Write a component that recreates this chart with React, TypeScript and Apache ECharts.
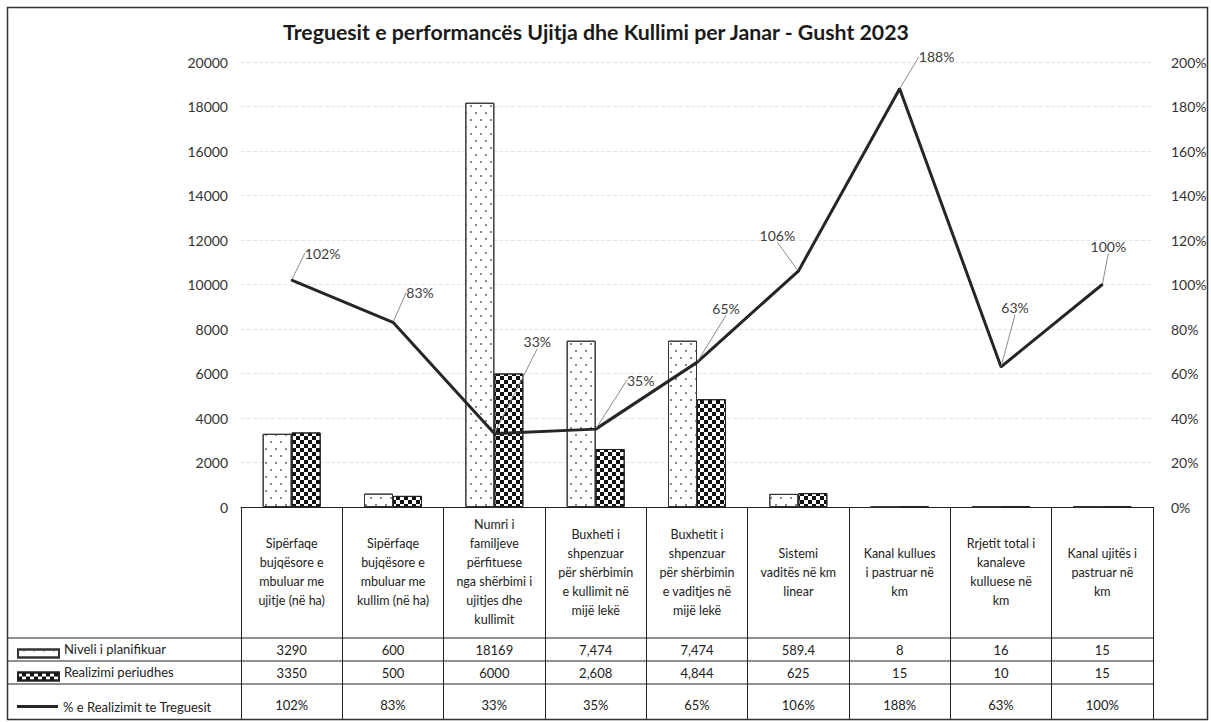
import React, { useEffect, useRef } from 'react';
import * as echarts from 'echarts';

const chartTitle = 'Treguesit e performancës Ujitja dhe Kullimi per Janar - Gusht 2023';

const categories = [
  'Sipërfaqe\nbujqësore e\nmbuluar me\nujitje (në ha)',
  'Sipërfaqe\nbujqësore e\nmbuluar me\nkullim (në ha)',
  'Numri i\nfamiljeve\npërfituese\nnga shërbimi i\nujitjes dhe\nkullimit',
  'Buxheti i\nshpenzuar\npër shërbimin\ne kullimit në\nmijë lekë',
  'Buxhetit i\nshpenzuar\npër shërbimin\ne vaditjes në\nmijë lekë',
  'Sistemi\nvaditës në km\nlinear',
  'Kanal kullues\ni pastruar në\nkm',
  'Rrjetit total i\nkanaleve\nkulluese në\nkm',
  'Kanal ujitës i\npastruar në\nkm',
];

const seriesNames = ['Niveli i planifikuar', 'Realizimi periudhes', '% e Realizimit te Treguesit'];

const planned = [3290, 600, 18169, 7474, 7474, 589.4, 8, 16, 15];
const realized = [3350, 500, 6000, 2608, 4844, 625, 15, 10, 15];
const pctRealized = [102, 83, 33, 35, 65, 106, 188, 63, 100];
const useThousandsSep = [false, false, false, true, true, false, false, false, false];

// label offsets (layout only)
const labelOffsets: number[][] = [
  [31, -19], [27, -22], [43, -84], [45, -41], [29, -46], [-21, -28], [37, -24], [14, -51], [6, -30],
];

const FONT = 'Lato';

const fmtVal = (v: number, i: number) =>
  useThousandsSep[i] ? v.toLocaleString('en-US') : String(v);

const dotDecal = {
  symbol: 'rect',
  symbolSize: 1,
  color: '#8a8a8a',
  backgroundColor: null,
  dashArrayX: [[2, 8], [0, 5, 2, 3]],
  dashArrayY: [2, 5],
  rotation: 0,
};

const checkDecal = {
  symbol: 'rect',
  symbolSize: 1,
  color: '#111',
  backgroundColor: null,
  dashArrayX: [[4, 4], [0, 4, 4, 0]],
  dashArrayY: [4, 0],
  rotation: 0,
};

export default function App() {
  const ref = useRef<HTMLDivElement>(null);
  useEffect(() => {
    if (!ref.current) return;
    const chart = echarts.init(ref.current, undefined, { renderer: 'svg' });
    const tableRowText = { fontFamily: FONT, fontSize: 13, color: '#222' };
    const valueRows = [planned, realized, pctRealized];
    const rowOffsets = [143, 166, 198];
    const extraAxes = valueRows.map((row, r) => ({
      type: 'category',
      data: categories,
      position: 'bottom',
      offset: rowOffsets[r],
      axisLine: { show: false },
      axisTick: { show: false },
      splitLine: { show: false },
      axisLabel: {
        interval: 0,
        margin: 0,
        verticalAlign: 'middle',
        ...tableRowText,
        formatter: (_v: string, idx: number) =>
          r === 2 ? `${row[idx]}%` : fmtVal(row[idx], idx),
      },
    }));
    const legendBase = {
      orient: 'vertical',
      left: 12,
      itemWidth: 41,
      itemHeight: 8,
      selectedMode: false,
      textStyle: { fontFamily: FONT, fontSize: 13, color: '#222' },
    };
    const shiftedText = {
      fontFamily: FONT,
      fontSize: 13,
      color: '#222',
      rich: { t: { fontFamily: FONT, fontSize: 13, color: '#222', padding: [0, 0, 10, 0] } },
    };
    chart.setOption({
      animation: false,
      backgroundColor: '#fff',
      title: {
        text: chartTitle,
        left: 278,
        top: 16,
        textStyle: { fontFamily: FONT, fontSize: 21.3, fontWeight: 'bold', color: '#1a1a1a' },
      },
      legend: [
        { ...legendBase, top: 637, data: [{ name: seriesNames[0], icon: 'rect' }], formatter: '{t|{name}}', textStyle: shiftedText },
        { ...legendBase, top: 660, data: [{ name: seriesNames[1], icon: 'rect' }], formatter: '{t|{name}}', textStyle: shiftedText },
        { ...legendBase, top: 695, itemHeight: 3, data: [{ name: seriesNames[2], icon: 'rect' }] },
      ],
      grid: { left: 241, right: 58, top: 62, bottom: 215, containLabel: false },
      xAxis: [
        {
          type: 'category',
          data: categories,
          position: 'bottom',
          axisLine: { lineStyle: { color: '#222', width: 1 } },
          axisTick: { show: true, length: 213, lineStyle: { color: '#222', width: 1 } },
          axisLabel: {
            interval: 0,
            margin: 65,
            verticalAlign: 'middle',
            align: 'center',
            lineHeight: 19,
            fontFamily: FONT,
            fontSize: 12.5,
            color: '#222',
          },
        },
        ...extraAxes,
      ],
      yAxis: [
        {
          type: 'value',
          min: 0,
          max: 20000,
          interval: 2000,
          axisLine: { show: false },
          axisTick: { show: false },
          axisLabel: {
            margin: 13,
            fontFamily: FONT,
            fontSize: 14,
            color: '#333',
            formatter: (v: number) => String(v),
          },
          splitLine: { lineStyle: { color: '#e4e4e4', type: 'dashed', width: 1 } },
        },
        {
          type: 'value',
          min: 0,
          max: 200,
          interval: 20,
          position: 'right',
          axisLine: { show: false },
          axisTick: { show: false },
          axisLabel: { margin: 18, formatter: '{value}%', fontFamily: FONT, fontSize: 14, color: '#333' },
          splitLine: { show: false },
        },
      ],
      series: [
        {
          name: seriesNames[0],
          type: 'bar',
          data: planned,
          barWidth: 29,
          barGap: '0%',
          itemStyle: { color: '#fff', borderColor: '#333', borderWidth: 1, decal: dotDecal },
        },
        {
          name: seriesNames[1],
          type: 'bar',
          data: realized,
          barWidth: 29,
          barGap: '0%',
          itemStyle: { color: '#fff', borderColor: '#222', borderWidth: 1, decal: checkDecal },
        },
        {
          name: seriesNames[2],
          type: 'line',
          yAxisIndex: 1,
          data: pctRealized,
          symbol: 'circle',
          symbolSize: 2,
          showSymbol: true,
          z: 5,
          itemStyle: { color: '#262626' },
          lineStyle: { color: '#262626', width: 3 },
          label: {
            show: true,
            position: 'top',
            distance: 0,
            formatter: '{c}%',
            fontFamily: FONT,
            fontSize: 14,
            color: '#404040',
          },
          labelLayout: (p: any) => ({ dx: labelOffsets[p.dataIndex][0], dy: labelOffsets[p.dataIndex][1] }),
          labelLine: { show: true, lineStyle: { color: '#8c8c8c', width: 1 } },
        },
      ],
      graphic: [
        { type: 'rect', shape: { x: 7.5, y: 7.5, width: 1200, height: 712 }, style: { fill: 'none', stroke: '#333', lineWidth: 1.5 }, z: 10 },
        { type: 'line', shape: { x1: 8, y1: 638, x2: 1153, y2: 638 }, style: { stroke: '#222', lineWidth: 1 } },
        { type: 'line', shape: { x1: 8, y1: 661, x2: 1153, y2: 661 }, style: { stroke: '#222', lineWidth: 1 } },
        { type: 'line', shape: { x1: 8, y1: 684, x2: 1153, y2: 684 }, style: { stroke: '#222', lineWidth: 1 } },
      ],
    });
    return () => chart.dispose();
  }, []);
  return (
    <div
      ref={ref}
      style={{ position: 'fixed', left: 0, top: 0, width: 1211, height: 722, background: '#fff' }}
    />
  );
}
